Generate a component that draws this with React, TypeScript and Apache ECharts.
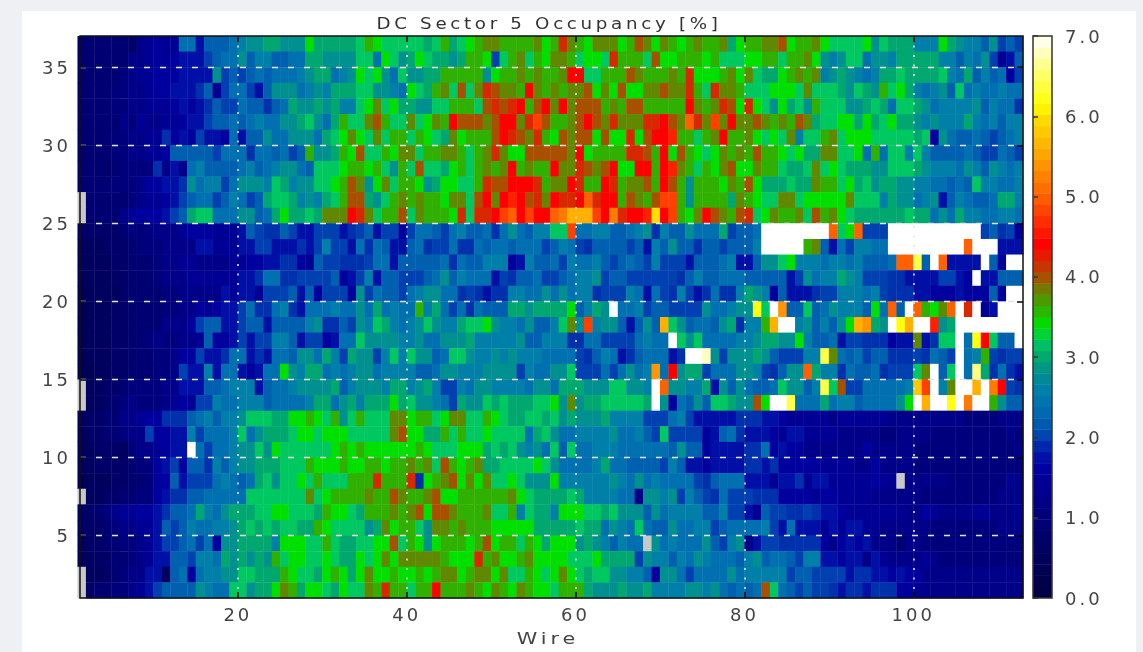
import React, { useEffect, useRef } from "react";
import * as echarts from "echarts";

const titleText = "DC Sector 5 Occupancy [%]";
const xName = "Wire";
const xTicks = [20, 40, 60, 80, 100];
const yTicks = [5, 10, 15, 20, 25, 30, 35];

// One string per layer, layer 36 first. Each character is a reading of the cell:
// 0-9 are the low readings, a-z count steps of 0.2 % from 2.0, "#" is a dead wire (drawn grey).
const occupancyRows = [
  "3333332567 66cc8bbbcd eeffeeehff fffgihgggg gfgifghijj iiiijhilji hjjjhikjhj ihijiijfhi ijjkhiijhg ggghegfffd ddhfeddbea ba",
  "3333335567 67888abcce bddbbccffe eeeggchgef hgffefiiha gijgihjjig hhgliiigkh hiiihigggh hiigiijhed eggceedfff ffddbdcea6 8b",
  "3333345667 778888eaba bcbcccdeff cdehghecge effiiiiieh iijijiijmm ggiiikjiii jilhhhijhj gffhijijde fedcdffgff ffgdcfbdbc 7a",
  "3333445567 78889b6acc a8beeecded fffggeedch gfijgkgjlk jjimjijijj khjhkhhjjk jjligljjig gghhhgjggg fegfeighfd cdebgcdccd cc",
  "3333445566 678789baac bb9bcfeefe fddghjghff eeggiiigkl klmikmjmjk kkijikkiii iimjijlkhl hgehfgeigg geefgfcggf ecddddebdc c9",
  "3333354655 66788abbcb cdcceefgec figgjkiggj ghjimkkkjk mmjlokiijk mkjljjjllm kjpljojmjj kjijikjfgg hhfhfghffe dedddfdcdb dd",
  "3333445566 9787a887c8 bbecceeecf ghjhgjgiig ihgfjhiiik mlkjlihkjk khkhhlhkmm niigijmiij hghgjdggij ghhhgggggf g7ecbbcbab cd",
  "3333445566 7bbbbbaccc 9ccbcabiee fihkggihjj giijjigijl jhhkkkkkjm hiiiillkim hkihghjiji kiihghffjj gghcicggdg dbbbbcbaac ba",
  "3332344449 585cdbbbbc dbcdeecbgg ghiihigeig kggfhigiji jmijiimjjl kjkmhhmmim njigihjkhh jiigffgjgh gfffeegggf edddcedbed cd",
  "3333444577 889ecddace eedgfdeegg hikjehjgii hefhhggilk kmmmlijjml iimlijjkim kieiiihjik hfffgffjii ghfgeffeed dccbcbgddc cd",
  "#333334566 78abccabdc abfggfdedf gikkfegiji jiihjjgkmj mnmkljmllm plmmikjiko oieiiiifji hggjjghhhh hjgggdfeec de8bdcbbcf fd",
  "#333356777 8abfggccce ebcfhffgfj jjmljgiikg jiiihlgllm opmommpqss somqlmmnum oihjmkjikl ghjiijgkij hgffffffgf fcecfddccd dc",
  "2222234445 5567776668 ba99ba88aa a89ab8aa7a ccbacdbbc9 cecbddggoc cddbbcde9d bbecccfabb czzzzzzzzp ghpaaazzzz zzzzzzzab9 a7",
  "1112223444 5555886668 8aa88898ad aa8c9cb88b c9aac99cbc cbcccabdca 9bbbbab8db ebb9bbabbb dzzzzzijb8 caddcczzzz zzzzzpzzz8 88",
  "1111223334 5566555566 77889976ba a999acc8bb bbbc9cbbdd d78dbbcadc cdbabcbada aa8bbbcd88 beeghdddcd dcdbbbcppw bzp8888zb7 zz",
  "1111223334 5556666668 89cc99aaaa b78ad8bbaa abcebdccc8 a9bbcaabcd deabbaaaaa a9bdbbcccb bbbb8aecdd fedaaa9988 88aa87z88b bb",
  "0111123333 4455555868 86aaab8b7a aa7eacbbac deecc9a989 9ddccececd d9aaadc8ca 9da89c99df ed7b8889aa dddcda9998 87778777b7 zz",
  "0111223333 445576788a c99cd98ccc dccecfcdcc idfcac9cbb bffeffffhb dfezccdabb aaaaeccdee vgzrbbgbce dddbhcpbzp ihjpzlz68z zz",
  "0111223333 5557abb88a bb8bbbbde9 9baedgfdcd egeddfgghe ddcebbdgje odeeb8bebs gebccbef9d diszzdebdb ehsrfezvsz znefzzzzzz zz",
  "0111223345 44556b778a 8aaddb8aa7 8ccgeeeedd ecceeefddd ddebbddd99 ccaaaacdcc zgegccccdd effeehdbbc 8aa999788j 89ggzcvmgb bz",
  "0111223334 4577a889cc 898ccbeecf dafeeadgdg eebcggedde dedddcccca 9bdc89bccc 89zzyeaeee febaaaddwj cbcabb999a 9cbazcdia9 aa",
  "0011223334 45a88d8cc8 78cchedffc dcdeecdddd bbceedddee eeadcceega aacacecdrc meffacccee da9beepfdd 9cbbc9aaag jzbgzcxf9c 98",
  "#112234444 55888bbcdd d8bccdeeee fbdeeedffd efdaadceed dddceecfff eeeggeedzp eeddf8ebec bbcgeebdwg kaacccccdt ozdjzzszqm a9",
  "#112345444 5676aadccd ddbccccdff cefdfffhfg eedcafeegf gfffggheje ffgggggfze 7cbebggfee khzzwcccfc ddbccccehz szzvzqzzie bb",
  "1223355677 999bcdbdde gggffhhihg iegigggjjh iighjjggih gffggfgefe eefddddaaa cda8888899 9887666665 6666665555 5555544445 55",
  "12233455a7 788dacccdg cefffghhgh hhgggggjkh hffigigghg gggcfgeccd dddeccdbag aaaa78bc98 8876886666 5555544555 5444444444 54",
  "1122214556 788zcaccde egehgggggg hihihhhhhh ihggghhhfg fgedecgbgc cdddcccccc bebb788889 9c78775555 5557555554 4444444444 45",
  "1122223447 8a7bb9dbde efffgggihh hihhiihiij ijgkihijff gggghgeccc cdfccbbbba db88788889 9897777766 6655755554 4444444444 44",
  "0111223347 7b8aaacdcb cfgegghgig ggiiiliiil 9hijkhjhjg ghgeeehddd dddedcecdc ccca9bccc8 8868896886 6666766#55 5554444444 65",
  "#112233447 899bbccccc gggggggjgh iiiijiikji ijkhhiiiii ijhgffffgf ddddcc5eed eadba9caaa 9997777677 6666555555 4444444445 55",
  "2234566778 9bbcfdceff fgghhgggfi hhgfiiijij khkkjiiijg gidgffdhhh ggfgeeebec ddddbbdaa8 6baa99a988 7666666655 7655556655 56",
  "2223455668 babdccddef gfgfggffih ggggefjhii gejjijiiih hhhhfffffg ffcedcgcbb eccddabccc cda8c88868 6886655555 5444444445 55",
  "1223344568 aabcac7eef fffdhhhggi gffgghhkgi hehiiihikh iigihfhhhe fedbdcc#ec dcccebade5 8aa9999975 7878555355 4444444444 44",
  "1122334568 8bbaddcfef efeighhggh gffhghjhjj jjjihhhlij hhijhhhhgg ghffffaedd bdcedcccbd ebccbadd88 7885865555 6544444444 44",
  "#112345588 1bc7cddeeg gfffihggfh ihfhjhhihh ihijjhijjh jggihghjhg fggeeddb7e ecaccccecd ddddabbaaa a899887877 5555555555 55",
  "#23344568a bbbbedccgg effhjifhhg fhggjiliig iimiiijihj ihjihhgiii feeefeefdd ddeedecbcb ckgcbabaa9 8998999776 5555555555 55",
];

// Colour scale of the bar: [value, r, g, b]
const scaleStops: number[][] = [
  [0, 0, 0, 64], [0.6, 0, 0, 96], [1.0, 0, 0, 120], [1.6, 0, 0, 160], [1.8, 0, 20, 168], [2.0, 0, 64, 176],
  [2.2, 0, 96, 176], [2.4, 0, 112, 176], [2.6, 0, 128, 168], [2.8, 0, 144, 144], [3.0, 0, 168, 112],
  [3.2, 0, 200, 96], [3.4, 0, 224, 0], [3.6, 48, 176, 0], [3.8, 96, 136, 0], [4.0, 168, 80, 0],
  [4.2, 216, 40, 0], [4.4, 255, 0, 0], [5.0, 255, 96, 0], [5.6, 255, 176, 0], [6.0, 255, 224, 0],
  [6.15, 255, 255, 0], [6.6, 255, 255, 128], [6.9, 255, 253, 224], [7.0, 255, 255, 255],
];
const scaleSteps = 50;
const deadColor = "#c8c8c8";
const textColor = "#444";

function colorOf(v: number): string {
  if (v < 0) return deadColor;
  let i = 1;
  while (i < scaleStops.length - 1 && v > scaleStops[i][0]) i++;
  const a = scaleStops[i - 1];
  const b = scaleStops[i];
  const t = Math.min(1, Math.max(0, (v - a[0]) / (b[0] - a[0])));
  const c = [1, 2, 3].map((k) => Math.round(a[k] + (b[k] - a[k]) * t));
  return `rgb(${c[0]},${c[1]},${c[2]})`;
}

function decode(ch: string): number {
  if (ch === "#") return -1;
  const n = parseInt(ch, 36);
  return n < 10 ? 0.4 + n * 0.17 : n * 0.2;
}

const cells: number[][] = [];
occupancyRows.forEach((row, r) => {
  const layer = 36 - r;
  row.replace(/ /g, "").split("").forEach((ch, c) => {
    cells.push([c + 1, layer, decode(ch)]);
  });
});
const barCells = Array.from({ length: scaleSteps }, (_, i) => [0, (i * 7) / scaleSteps, ((i + 0.5) * 7) / scaleSteps]);

export default function App() {
  const ref = useRef<HTMLDivElement>(null);
  useEffect(() => {
    document.body.style.margin = "0";
    const chart = echarts.init(ref.current!, undefined, { renderer: "svg" });
    const labelStyle = { color: textColor, fontFamily: "DejaVu Sans", fontSize: 18 };
    const dotted = { show: true, lineStyle: { color: "#e4e4e4", width: 1.6, type: [2, 7.5] as any } };
    const dashed = { show: true, lineStyle: { color: "#e4e4e4", width: 1.4, type: [6, 10] as any } };
    const tick = { show: true, inside: true, length: 6, lineStyle: { color: "#000", width: 1.5 } };
    chart.setOption({
      animation: false,
      backgroundColor: "#eef0f4",
      graphic: [
        { type: "rect", z: -10, shape: { x: 22, y: 11, width: 1114, height: 641 }, style: { fill: "#fff" } },
        {
          type: "text", x: 549, y: 24, scaleX: 1.22, z: 20,
          style: { text: titleText, fill: "#333", font: "15px 'DejaVu Sans'", textAlign: "center", textVerticalAlign: "middle" },
        },
        {
          type: "text", x: 548, y: 638, scaleX: 1.3, z: 20,
          style: { text: xName, fill: textColor, font: "16px 'DejaVu Sans'", textAlign: "center", textVerticalAlign: "middle" },
        },
      ],
      grid: [
        { left: 80, right: 120, top: 36, bottom: 54, show: true, borderColor: "#111", borderWidth: 1.5, backgroundColor: "transparent", z: 5 },
        { left: 1033, width: 19, top: 36, bottom: 54, show: true, borderColor: "#333", borderWidth: 1.5, backgroundColor: "transparent", z: 5 },
      ],
      xAxis: [
        {
          type: "value", gridIndex: 0, min: 1.3, max: 113, interval: 20, z: 4,
          axisLine: { show: false }, axisTick: { ...tick, customValues: xTicks },
          axisLabel: { ...labelStyle, margin: 7, customValues: xTicks },
          splitLine: dotted,
        },
        {
          type: "value", gridIndex: 0, position: "top", min: 1.3, max: 113, interval: 20, z: 4,
          axisLine: { show: false }, axisTick: { ...tick, customValues: xTicks },
          axisLabel: { show: false }, splitLine: { show: false },
        },
        { type: "value", gridIndex: 1, min: 0, max: 1, show: false },
      ],
      yAxis: [
        {
          type: "value", gridIndex: 0, min: 1, max: 37, interval: 5, z: 4,
          axisLine: { show: false }, axisTick: { ...tick, customValues: yTicks },
          axisLabel: { ...labelStyle, margin: 9, customValues: yTicks },
          splitLine: dashed,
        },
        {
          type: "value", gridIndex: 0, position: "right", min: 1, max: 37, interval: 5, z: 4,
          axisLine: { show: false }, axisTick: { ...tick, customValues: yTicks },
          axisLabel: { show: false }, splitLine: { show: false },
        },
        {
          type: "value", gridIndex: 1, position: "right", min: 0, max: 7, interval: 1, z: 4,
          axisLine: { show: false },
          axisTick: { show: true, inside: false, length: 5, lineStyle: { color: "#333", width: 1.5 } },
          axisLabel: { ...labelStyle, margin: 13, formatter: (v: number) => v.toFixed(1) },
          splitLine: { show: false },
        },
      ],
      series: [
        {
          type: "custom", xAxisIndex: 0, yAxisIndex: 0, clip: true, z: 2, silent: true,
          data: cells,
          renderItem: (_p: any, api: any) => {
            const w = api.value(0), l = api.value(1);
            const p0 = api.coord([w, l + 1]);
            const p1 = api.coord([w + 1, l]);
            return {
              type: "rect",
              shape: { x: p0[0], y: p0[1], width: p1[0] - p0[0] + 0.4, height: p1[1] - p0[1] + 0.4 },
              style: { fill: colorOf(api.value(2)) },
            };
          },
        },
        {
          type: "custom", xAxisIndex: 2, yAxisIndex: 2, clip: true, z: 2, silent: true,
          data: barCells,
          renderItem: (_p: any, api: any) => {
            const v = api.value(1);
            const p0 = api.coord([0, v + 7 / scaleSteps]);
            const p1 = api.coord([1, v]);
            return {
              type: "rect",
              shape: { x: p0[0], y: p0[1], width: p1[0] - p0[0], height: p1[1] - p0[1] + 0.4 },
              style: { fill: colorOf(api.value(2)) },
            };
          },
        },
      ],
    });
    return () => chart.dispose();
  }, []);
  return (
    <div
      ref={ref}
      style={{ width: 1143, height: 652, letterSpacing: "3px", filter: "blur(0.7px)" }}
    />
  );
}
